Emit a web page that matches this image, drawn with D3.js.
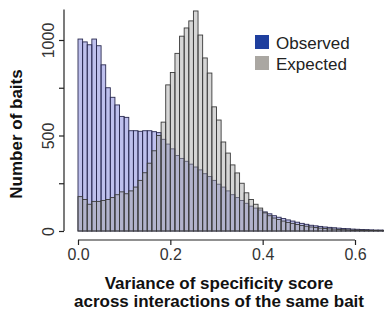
<!DOCTYPE html>
<meta charset="utf-8">
<style>
body { margin: 0; background: #fff; }
svg { display: block; font-family: "Liberation Sans", Arial, sans-serif; }
.axis path, .axis line { stroke: #222; stroke-width: 1.2px; }
.axis text { fill: #333; font-size: 16px; }
.title { font-weight: bold; font-size: 17px; fill: #111; }
.legend text { font-size: 17px; fill: #222; }
</style>
<svg width="384" height="311"></svg>
<script src="https://d3js.org/d3.v7.min.js"></script>
<script>
// histogram counts per 0.01 bin, starting at 0.00
var binWidth = 0.01;
var observed = [1005, 990, 975, 1005, 970, 870, 750, 700, 660, 600,
                595, 525, 525, 522, 525, 525, 520, 515, 480, 455,
                430, 395, 380, 365, 350, 335, 320, 300, 285, 265,
                245, 230, 210, 190, 175, 160, 145, 130, 120, 110,
                100, 90, 80, 72, 65, 58, 52, 46, 40, 35,
                30, 27, 24, 21, 19, 17, 15, 13, 12, 10,
                9, 8, 7, 6, 5, 5, 4];
var expected = [180, 165, 140, 155, 155, 160, 165, 175, 190, 205,
                195, 210, 230, 265, 305, 355, 420, 500, 570, 765,
                830, 930, 1020, 1063, 1100, 1152, 1026, 906, 827, 650,
                581, 466, 408, 346, 304, 250, 200, 165, 140, 120,
                95, 80, 68, 60, 52, 45, 40, 34, 29, 25,
                21, 18, 15, 13, 11, 10, 8, 7, 6, 5,
                5, 4, 4, 3, 3, 2, 2];
var xTicks = [0, 0.2, 0.4, 0.6];
var yTicks = [0, 250, 500, 750, 1000];
var yLabels = [0, 500, 1000];
var legendNames = ["Observed", "Expected"];

var svg = d3.select("svg");
var x = d3.scaleLinear().domain([0, 0.6]).range([78, 355]);
var y = d3.scaleLinear().domain([0, 1000]).range([231, 40]);

function bars(data, fill, stroke) {
  svg.append("g").selectAll("rect")
    .data(data).enter().append("rect")
      .attr("x", function(d, i) { return x(i * binWidth); })
      .attr("width", function(d, i) { return x((i + 1) * binWidth) - x(i * binWidth); })
      .attr("y", function(d) { return y(d); })
      .attr("height", function(d) { return y(0) - y(d); })
      .attr("fill", fill)
      .attr("stroke", stroke)
      .attr("stroke-width", 0.9);
}
bars(observed, "rgba(110,115,215,0.45)", "#2a2a50");
bars(expected, "rgba(165,165,165,0.45)", "#3a3a3a");

// y axis
var yAxis = svg.append("g").attr("class", "axis")
  .attr("transform", "translate(64,0)")
  .call(d3.axisLeft(y).tickValues(yTicks).tickSize(5).tickSizeOuter(0)
    .tickFormat(function(d) { return yLabels.indexOf(d) >= 0 ? d : ""; }));
yAxis.select(".domain").remove();
yAxis.append("line").attr("x1", 0).attr("x2", 0).attr("y1", y(0)).attr("y2", y(1160));
yAxis.selectAll(".tick text")
  .attr("transform", "rotate(-90)")
  .attr("x", 0).attr("y", -10).attr("dy", 0)
  .attr("text-anchor", "middle");

// x axis
var xAxis = svg.append("g").attr("class", "axis")
  .attr("transform", "translate(0,240)")
  .call(d3.axisBottom(x).tickValues(xTicks).tickSize(5).tickSizeOuter(0)
    .tickFormat(d3.format(".1f")));
xAxis.select(".domain").attr("d", "M" + x(0) + ",0H" + x(0.6));
xAxis.selectAll(".tick text").attr("y", 9);

// titles
svg.append("text").attr("class", "title")
  .attr("transform", "translate(22,134) rotate(-90)")
  .attr("text-anchor", "middle")
  .text("Number of baits");
svg.append("text").attr("class", "title")
  .attr("x", 219).attr("y", 289).attr("text-anchor", "middle")
  .text("Variance of specificity score");
svg.append("text").attr("class", "title")
  .attr("x", 219).attr("y", 307).attr("text-anchor", "middle")
  .text("across interactions of the same bait");

// legend
var legendColors = ["#1f3f9e", "#aaa7a2"];
var legend = svg.append("g").attr("class", "legend");
legendNames.forEach(function(name, i) {
  legend.append("rect").attr("x", 255).attr("y", 35 + i * 21)
    .attr("width", 14).attr("height", 14).attr("fill", legendColors[i]);
  legend.append("text").attr("x", 276).attr("y", 49 + i * 21).text(name);
});
</script>
